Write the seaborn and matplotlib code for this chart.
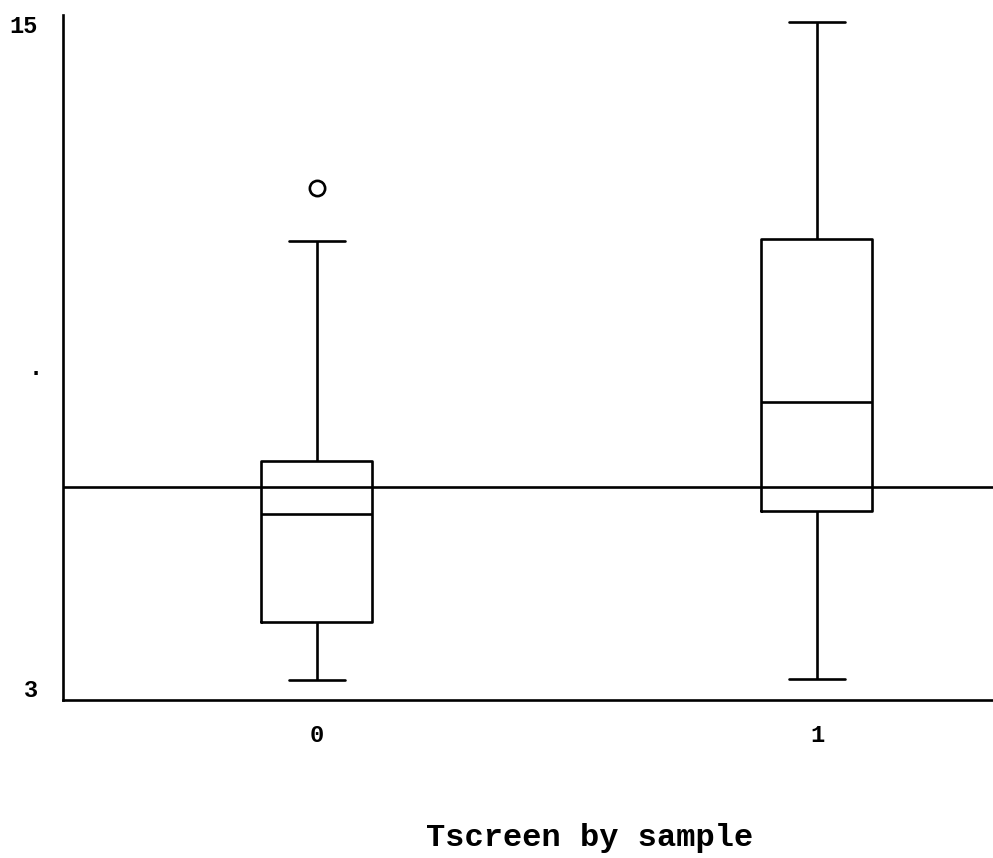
import matplotlib
matplotlib.use("Agg")
import matplotlib.pyplot as plt
from matplotlib.transforms import ScaledTranslation
import seaborn as sns
import pandas as pd

# raw values chosen so quartiles / whiskers match the reference boxes
sample_0 = [3.32, 3.9, 4.35, 5.4, 6.26, 6.7, 7.20, 11.10, 12.04]
sample_1 = [3.34, 6.32, 8.25, 11.14, 15.0]
ref_line = 6.74
y_ticks = [3, 15]
x_labels = ["0", "1"]

df = pd.DataFrame({
    "sample": ["0"] * len(sample_0) + ["1"] * len(sample_1),
    "Tscreen": sample_0 + sample_1,
})

sns.set_style("white")
plt.rcParams["font.family"] = ["Liberation Mono", "DejaVu Sans Mono"]
plt.rcParams["text.color"] = "black"
plt.rcParams["xtick.color"] = "black"
plt.rcParams["ytick.color"] = "black"

fig = plt.figure(figsize=(9.93, 8.58), dpi=100)
ax = fig.add_axes([0.0634, 0.184, 0.9366, 0.7986])

sns.boxplot(
    data=df,
    x="sample",
    y="Tscreen",
    order=x_labels,
    width=0.222,
    fill=False,
    color="black",
    linecolor="black",
    linewidth=1.9,
    whis=1.5,
    fliersize=11,
    flierprops={"marker": "o", "markeredgewidth": 1.9},
    ax=ax,
)

ax.axhline(ref_line, color="black", linewidth=1.9)

ax.set_xlim(-0.508, 1.352)
ax.set_ylim(2.96, 15.12)
ax.set_yticks(y_ticks)
ax.set_yticklabels([str(t) for t in y_ticks], fontweight="bold", fontsize=17)
ax.set_xticks([0, 1])
ax.set_xticklabels(x_labels, fontweight="bold", fontsize=17)
ax.tick_params(axis="y", length=0, pad=18, labelcolor="black")
ax.tick_params(axis="x", length=0, pad=17, labelcolor="black")

# nudge the y labels like in the scanned original
offsets = {"3": 10 / 100, "15": -2 / 100}
for lbl in ax.get_yticklabels():
    dy = offsets.get(lbl.get_text(), 0)
    lbl.set_transform(lbl.get_transform() + ScaledTranslation(0, dy, fig.dpi_scale_trans))

ax.text(-0.029, 8.65, ".", transform=ax.get_yaxis_transform(),
        ha="center", va="bottom", fontsize=17, fontweight="bold", color="black")

for side in ["top", "right"]:
    ax.spines[side].set_visible(False)
for side in ["left", "bottom"]:
    ax.spines[side].set_color("black")
    ax.spines[side].set_linewidth(1.9)

ax.set_xlabel("")
ax.set_ylabel("")
fig.text(0.594, 1 - 846 / 858, "Tscreen by sample", ha="center", va="baseline",
         fontsize=23, fontweight="bold", color="black")

plt.savefig("out.png", dpi=100)
plt.close()
